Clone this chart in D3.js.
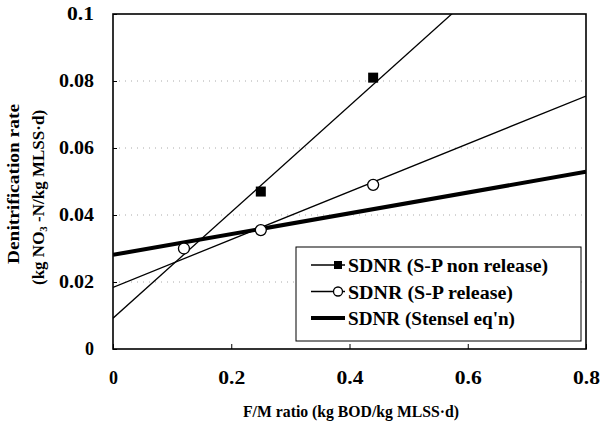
<!DOCTYPE html>
<html>
<head>
<meta charset="utf-8">
<script src="https://cdn.jsdelivr.net/npm/d3@7"></script>
<style>
  body { margin: 0; background: #fff; }
</style>
</head>
<body>
<div id="chart"></div>
<script>
// Measured points
const nonReleaseX = [0.25, 0.44];
const nonReleaseY = [0.047, 0.081];
const releaseX = [0.12, 0.25, 0.44];
const releaseY = [0.030, 0.0355, 0.049];

// Fitted lines: intercept and slope per series
const seriesNames = ['SDNR (S-P non release)', 'SDNR (S-P release)', "SDNR (Stensel eq'n)"];
const fitIntercepts = [0.0092, 0.0184, 0.0281];
const fitSlopes = [0.1585, 0.0714, 0.031];

// Ticks
const xTicks = [0, 0.2, 0.4, 0.6, 0.8];
const yTicks = [0, 0.02, 0.04, 0.06, 0.08, 0.1];

const WIDTH = 601;
const HEIGHT = 422;
const MARGIN = { top: 14, right: 15, bottom: 73, left: 113 };
const FONT = 'Liberation Serif';

const svg = d3.select('#chart')
  .append('svg')
  .attr('width', WIDTH)
  .attr('height', HEIGHT);

const x = d3.scaleLinear().domain([0, 0.8]).range([MARGIN.left, WIDTH - MARGIN.right]);
const y = d3.scaleLinear().domain([0, 0.1]).range([HEIGHT - MARGIN.bottom, MARGIN.top]);

// bold serif text helper
const label = (sel, size) => sel
  .style('font-family', FONT)
  .style('font-weight', 'bold')
  .style('font-size', size + 'px');

// Dotted gridlines
svg.append('g')
  .selectAll('line')
  .data(yTicks.slice(1, -1))
  .enter()
  .append('line')
  .attr('x1', x(0))
  .attr('x2', x(0.8))
  .attr('y1', d => y(d))
  .attr('y2', d => y(d))
  .attr('stroke', '#aaa')
  .attr('stroke-width', 1)
  .attr('stroke-dasharray', '1,5');

// Clip for fit lines
svg.append('clipPath')
  .attr('id', 'plot-clip')
  .append('rect')
  .attr('x', x(0))
  .attr('y', y(0.1))
  .attr('width', x(0.8) - x(0))
  .attr('height', y(0) - y(0.1));

const fitWidths = [1.3, 1.3, 4];
const line = d3.line().x(d => x(d[0])).y(d => y(d[1]));

svg.append('g')
  .attr('clip-path', 'url(#plot-clip)')
  .selectAll('path')
  .data(fitIntercepts.map((b, i) => [[0, b], [0.8, b + fitSlopes[i] * 0.8]]))
  .enter()
  .append('path')
  .attr('d', line)
  .attr('fill', 'none')
  .attr('stroke', '#000')
  .attr('stroke-width', (d, i) => fitWidths[i]);

// Points
svg.append('g')
  .selectAll('rect')
  .data(nonReleaseX.map((v, i) => [v, nonReleaseY[i]]))
  .enter()
  .append('rect')
  .attr('x', d => x(d[0]) - 5)
  .attr('y', d => y(d[1]) - 5)
  .attr('width', 10)
  .attr('height', 10)
  .attr('fill', '#000');

svg.append('g')
  .selectAll('circle')
  .data(releaseX.map((v, i) => [v, releaseY[i]]))
  .enter()
  .append('circle')
  .attr('cx', d => x(d[0]))
  .attr('cy', d => y(d[1]))
  .attr('r', 5.5)
  .attr('fill', '#fff')
  .attr('stroke', '#000')
  .attr('stroke-width', 1.3);

// Frame
svg.append('rect')
  .attr('x', x(0))
  .attr('y', y(0.1))
  .attr('width', x(0.8) - x(0))
  .attr('height', y(0) - y(0.1))
  .attr('fill', 'none')
  .attr('stroke', '#000')
  .attr('stroke-width', 1.6);

// Axes with inward ticks
const yAxis = svg.append('g')
  .attr('transform', `translate(${x(0)},0)`)
  .call(d3.axisLeft(y).tickValues(yTicks).tickSize(-4).tickPadding(19).tickFormat(d => d === 0 ? '0' : String(+d.toFixed(2))));
yAxis.select('.domain').remove();
yAxis.selectAll('text').call(label, 18)
  .attr('textLength', d => d === 0 ? null : (d === 0.1 ? 27 : 35))
  .attr('lengthAdjust', 'spacingAndGlyphs');

const xAxis = svg.append('g')
  .attr('transform', `translate(0,${y(0)})`)
  .call(d3.axisBottom(x).tickValues(xTicks).tickSize(-5).tickPadding(22).tickFormat(d => d === 0 ? '0' : String(+d.toFixed(1))));
xAxis.select('.domain').remove();
xAxis.selectAll('text').call(label, 18)
  .attr('textLength', d => d === 0 ? null : 27)
  .attr('lengthAdjust', 'spacingAndGlyphs');

// Axis titles
svg.append('text')
  .attr('x', 243)
  .attr('y', 417)
  .attr('textLength', 216)
  .attr('lengthAdjust', 'spacingAndGlyphs')
  .call(label, 17)
  .text('F/M ratio (kg BOD/kg MLSS\u00b7d)');

svg.append('text')
  .attr('transform', 'translate(19,264) rotate(-90)')
  .attr('textLength', 160)
  .attr('lengthAdjust', 'spacingAndGlyphs')
  .call(label, 17)
  .text('Denitrification rate');

const yTitle2 = svg.append('text')
  .attr('transform', 'translate(44,285) rotate(-90)')
  .call(label, 17);
yTitle2.append('tspan').text('(kg NO');
yTitle2.append('tspan')
  .attr('dy', 3)
  .style('font-size', '11px')
  .text('3');
yTitle2.append('tspan')
  .attr('dy', -3)
  .text(' -N/kg MLSS\u00b7d)');

// Legend
const legendWidths = [200, 165, 167];
const legend = svg.append('g').attr('id', 'legend');
legend.append('rect')
  .attr('x', 296)
  .attr('y', 247)
  .attr('width', 285)
  .attr('height', 94)
  .attr('fill', '#fff')
  .attr('stroke', '#000')
  .attr('stroke-width', 1);

const rows = legend.selectAll('g.row')
  .data(seriesNames)
  .enter()
  .append('g')
  .attr('class', 'row')
  .attr('transform', (d, i) => `translate(0,${265 + i * 26.5})`);

rows.append('line')
  .attr('x1', 311)
  .attr('x2', 345)
  .attr('y1', 0)
  .attr('y2', 0)
  .attr('stroke', '#000')
  .attr('stroke-width', (d, i) => fitWidths[i] === 4 ? 4 : 1.3);

rows.filter((d, i) => i === 0)
  .append('rect')
  .attr('x', 334)
  .attr('y', -4)
  .attr('width', 8)
  .attr('height', 8)
  .attr('fill', '#000');

rows.filter((d, i) => i === 1)
  .append('circle')
  .attr('cx', 338)
  .attr('cy', 0)
  .attr('r', 4.5)
  .attr('fill', '#fff')
  .attr('stroke', '#000')
  .attr('stroke-width', 1.3);

rows.append('text')
  .attr('x', 348)
  .attr('y', 7)
  .attr('textLength', (d, i) => legendWidths[i])
  .attr('lengthAdjust', 'spacingAndGlyphs')
  .call(label, 18)
  .text(d => d);
</script>
</body>
</html>
